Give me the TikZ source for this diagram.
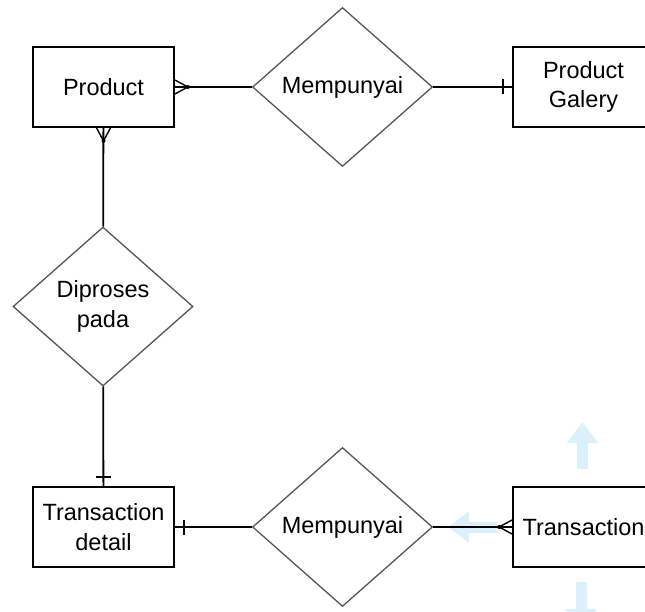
\documentclass[tikz,border=0pt]{standalone}
\usepackage{fontspec}
\setmainfont{Liberation Sans}
\usepackage{tikz}
\usetikzlibrary{shapes.geometric,arrows.meta,positioning,calc}
\definecolor{hoverblue}{HTML}{DCF0FB}
\definecolor{diamondgray}{HTML}{555555}

\begin{document}
\begin{tikzpicture}[
    x=1pt, y=-1pt,
    entity/.style={draw=black, line width=1.8pt, fill=white, minimum width=141pt, minimum height=80pt, inner sep=2pt, align=center, font=\fontsize{23.5}{29.5}\selectfont},
    relation/.style={diamond, draw=diamondgray, line width=1.3pt, fill=white, minimum width=180pt, minimum height=159pt, inner sep=0pt, align=center, font=\fontsize{23.5}{29.5}\selectfont},
    link/.style={line width=1.8pt, draw=black},
    hover/.style={line width=11pt, draw=hoverblue, -{Triangle[width=30pt, length=21pt]}}
]
    \useasboundingbox (0,0) rectangle (645,612);

    % Hover arrows (behind everything)
    \draw[hover] (582.5,469) -- (582.5,422);
    \draw[hover] (497,527) -- (448,527);
    \draw[hover] (581.5,582) -- (581.5,630);

    % Entities
    \node[entity] (prod) at (103.5, 87) {Product};
    \node[entity] (gal) at (583.5, 87) {Product\\Galery};
    \node[entity] (td) at (103.5, 527) {Transaction\\detail};
    \node[entity] (tr) at (583.5, 527) {Transaction};

    % Relations
    \node[relation] (mp1) at (342.5, 87) {Mempunyai};
    \node[relation] (dip) at (103, 306.5) {Diproses\\pada};
    \node[relation] (mp2) at (342.5, 527) {Mempunyai};

    % Links
    \draw[link] (prod) -- (mp1);
    \draw[link] (mp1) -- (gal);
    \draw[link] (prod) -- (dip);
    \draw[link] (dip) -- (td);
    \draw[link] (td) -- (mp2);
    \draw[link] (mp2) -- (tr);

    % Crow's feet (many)
    \foreach \a/\dx/\dy/\px/\py in {prod.east/13/0/0/7, prod.south/0/13/7/0, tr.west/-13/0/0/7} {
        \draw[line width=1.4pt] ($(\a)+(\px,\py)$) -- ($(\a)+(\dx,\dy)$) -- ($(\a)-(\px,\py)$);
        \fill ($(\a)+(\dx,\dy)$) circle (2pt);
    }

    % Bars (one)
    \foreach \a/\dx/\dy/\px/\py in {gal.west/-9/0/0/7.5, td.north/0/-9/7.5/0, td.east/9/0/0/7.5} {
        \draw[line width=1.6pt] ($(\a)+(\dx,\dy)+(\px,\py)$) -- ($(\a)+(\dx,\dy)-(\px,\py)$);
    }

\end{tikzpicture}
\end{document}
